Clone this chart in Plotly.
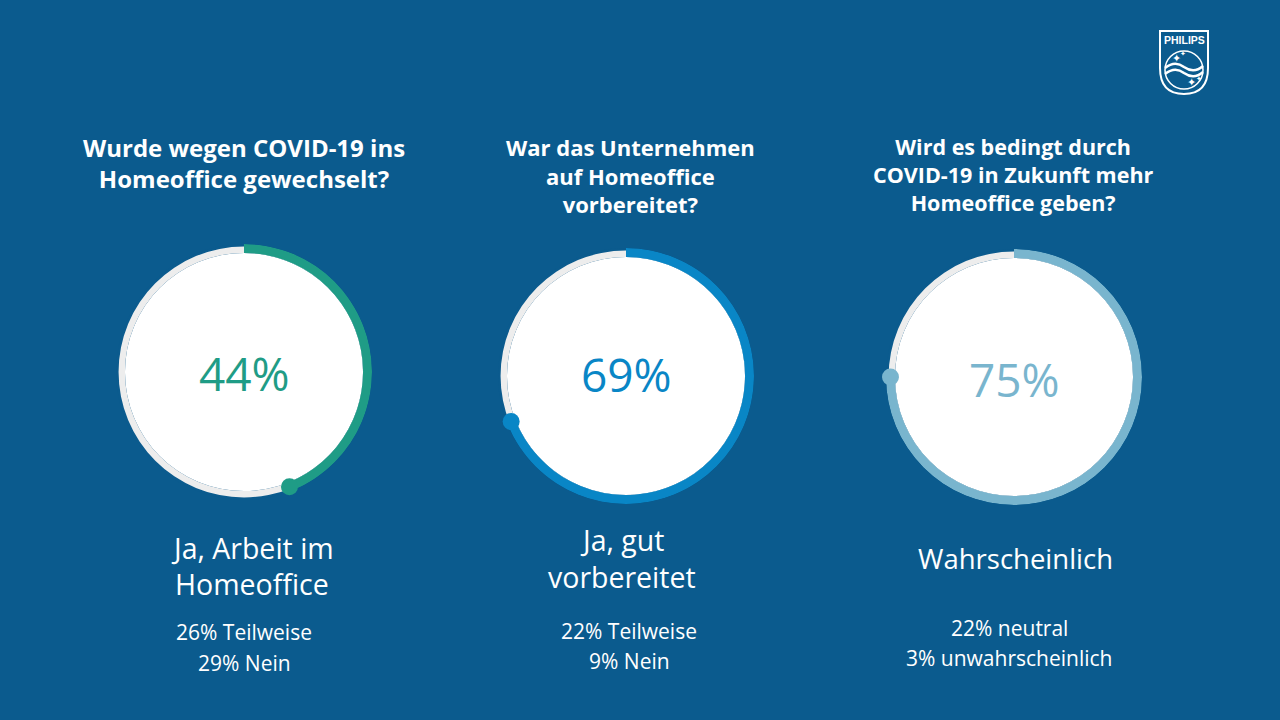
import plotly.graph_objects as go

# survey data
questions = [
    ["Wurde wegen COVID-19 ins", "Homeoffice gewechselt?"],
    ["War das Unternehmen", "auf Homeoffice", "vorbereitet?"],
    ["Wird es bedingt durch", "COVID-19 in Zukunft mehr", "Homeoffice geben?"],
]
main_values = [44, 69, 75]
main_labels = [["Ja, Arbeit im", "Homeoffice"], ["Ja, gut", "vorbereitet"], ["Wahrscheinlich"]]
other_answers = [
    ["26% Teilweise", "29% Nein"],
    ["22% Teilweise", "9% Nein"],
    ["22% neutral", "3% unwahrscheinlich"],
]
colors = ["#1f9c86", "#0986c6", "#79b5ce"]

W, H = 1280, 720
BG = "#0b5b8e"
FONT = "Open Sans"

# layout positions in pixels
centers = [(244, 372), (626, 376), (1014, 377)]
pct_y = [373, 374, 379]
radius = 128
title_x = [244, 630, 1013]
title_y = [163, 175, 174]
title_size = [24, 22, 21.5]
label_x = [252, 622, 1015]
label_y = [[548, 584], [540, 577], [558]]
label_size = [28.5, 28.5, 27.5]
other_x = [244, 629, 1009]
other_y = [[632, 663], [631, 661], [628, 658]]


def px(x, y):
    return x / W, 1 - y / H


def text(x, y, s, size, color="white", bold=False, family=FONT):
    a, b = px(x, y)
    return dict(x=a, y=b, text=f"<b>{s}</b>" if bold else s, showarrow=False,
                font=dict(family=family, size=size, color=color),
                xanchor="center", yanchor="middle", align="center")


fig = go.Figure()
annotations = []

for i, v in enumerate(main_values):
    cx, cy = centers[i]
    pid = "polar" if i == 0 else f"polar{i + 1}"
    # white disk
    fig.add_trace(go.Barpolar(r=[0.93], theta=[0], width=[360], base=0,
                              marker=dict(color="white", line=dict(width=0)),
                              subplot=pid, hoverinfo="skip"))
    # grey track
    fig.add_trace(go.Barpolar(r=[0.05], theta=[0], width=[360], base=0.93,
                              marker=dict(color="#ededed", line=dict(width=0)),
                              subplot=pid, hoverinfo="skip"))
    # coloured arc
    deg = v * 3.6
    fig.add_trace(go.Barpolar(r=[0.07], theta=[deg / 2], width=[deg], base=0.93,
                              marker=dict(color=colors[i], line=dict(width=0)),
                              subplot=pid, hoverinfo="skip"))
    # end dot
    fig.add_trace(go.Scatterpolar(r=[0.965], theta=[deg], mode="markers",
                                  marker=dict(color=colors[i], size=17),
                                  subplot=pid, hoverinfo="skip", cliponaxis=False))

    x0, y1 = px(cx - radius, cy - radius)
    x1, y0 = px(cx + radius, cy + radius)
    fig.update_layout(**{pid: dict(
        domain=dict(x=[x0, x1], y=[y0, y1]),
        bgcolor=BG,
        bargap=0,
        radialaxis=dict(range=[0, 1], visible=False),
        angularaxis=dict(rotation=90, direction="clockwise", visible=False),
    )})

    annotations.append(text(cx, pct_y[i], f"{v}%", 46, color=colors[i]))
    annotations.append(text(title_x[i], title_y[i], "<br>".join(questions[i]),
                            title_size[i], bold=True))
    for line, y in zip(main_labels[i], label_y[i]):
        annotations.append(text(label_x[i], y, line, label_size[i]))
    for line, y in zip(other_answers[i], other_y[i]):
        annotations.append(text(other_x[i], y, line, 21))


# simple Philips shield logo
def P(x, y):
    a, b = px(x, y)
    return f"{a:.5f},{b:.5f}"


shield = (f"M{P(1160, 31)} L{P(1208, 31)} L{P(1208, 68)} "
          f"Q{P(1208, 94)} {P(1184, 94)} Q{P(1160, 94)} {P(1160, 68)} Z")
ring_x0, ring_y1 = px(1165, 51)
ring_x1, ring_y0 = px(1203, 89)
wave1 = f"M{P(1165, 68)} Q{P(1175, 60)} {P(1184, 67)} Q{P(1194, 74)} {P(1203, 66)}"
wave2 = f"M{P(1165, 74)} Q{P(1175, 66)} {P(1184, 73)} Q{P(1194, 80)} {P(1203, 72)}"
shapes = [
    dict(type="path", path=shield, xref="paper", yref="paper",
         line=dict(color="white", width=2), fillcolor=BG),
    dict(type="circle", x0=ring_x0, x1=ring_x1, y0=ring_y0, y1=ring_y1,
         xref="paper", yref="paper", line=dict(color="white", width=1.5)),
    dict(type="path", path=wave1, xref="paper", yref="paper",
         line=dict(color="white", width=2.5)),
    dict(type="path", path=wave2, xref="paper", yref="paper",
         line=dict(color="white", width=2.5)),
]
annotations.append(text(1184, 40, "PHILIPS", 10.5, bold=True, family="Liberation Sans"))
for sx, sy, s in [(1176, 58, 11), (1183, 54, 7), (1191, 82, 11), (1199, 79, 7)]:
    annotations.append(text(sx, sy, "✦", s, family="DejaVu Sans"))

fig.update_layout(
    width=W, height=H,
    margin=dict(l=0, r=0, t=0, b=0),
    paper_bgcolor=BG, plot_bgcolor=BG,
    showlegend=False,
    annotations=annotations,
    shapes=shapes,
)

fig.write_html("out.html", config={"displayModeBar": False},
               post_script="document.body.style.margin='0';")
